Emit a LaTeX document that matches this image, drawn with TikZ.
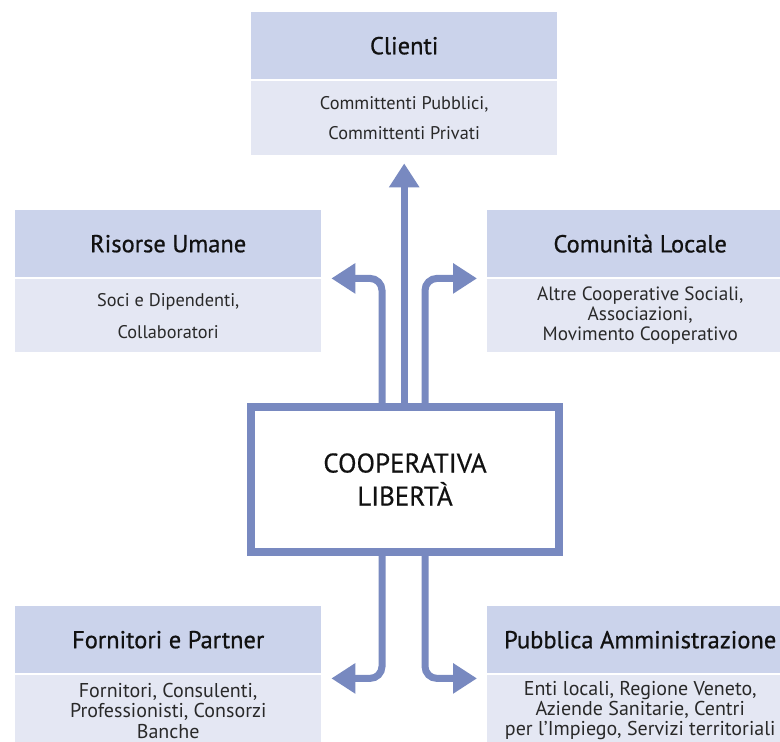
\documentclass[tikz,border=0pt]{standalone}
\usepackage{fontspec}
\setmainfont{PT Sans}
\newfontfamily\hdrfont[FakeBold=0.7]{PT Sans}
\newfontfamily\ctrfont[FakeBold=0.4]{PT Sans}
\usetikzlibrary{arrows.meta,calc}
\definecolor{hdr}{HTML}{CBD3EB}
\definecolor{bdy}{HTML}{E4E7F3}
\definecolor{ln}{HTML}{7889C0}
\definecolor{txt}{HTML}{111111}
\begin{document}
\begin{tikzpicture}[x=1pt,y=-1pt,
  hbox/.style={fill=hdr,minimum width=306pt,minimum height=67pt,anchor=north west,inner sep=0pt,
    font=\hdrfont\fontsize{24.5}{28}\selectfont,text=txt},
  bbox/.style={fill=bdy,minimum width=306pt,anchor=north west,inner sep=0pt,align=center,text=txt!90},
  conn/.style={draw=ln,line width=7pt,rounded corners=12pt,-{Triangle[length=24pt,width=29pt]}}]
\useasboundingbox (0,0) rectangle (780,742);
\fill[white] (0,0) rectangle (780,742);
\clip (0,0) rectangle (780,742);
% Clienti
\node[hbox] (cliH) at (251,12) {Clienti};
\node[bbox,minimum height=74pt,font=\fontsize{18.3}{30}\selectfont] (cliB) at (251,81) {Committenti Pubblici,\\Committenti Privati};
% Risorse Umane
\node[hbox] (ruH) at (15,210) {Risorse Umane};
\node[bbox,minimum height=73pt,font=\fontsize{18.3}{32}\selectfont] (ruB) at (15,279) {Soci e Dipendenti,\\Collaboratori};
% Comunita Locale
\node[hbox] (clH) at (487,210) {Comunità Locale};
\node[bbox,minimum height=73pt,font=\fontsize{19.2}{20}\selectfont] (clB) at (487,279) {Altre Cooperative Sociali,\\Associazioni,\\Movimento Cooperativo};
% Fornitori e Partner
\node[hbox] (fpH) at (15,606) {Fornitori e Partner};
\node[bbox,minimum height=71pt,font=\fontsize{20}{20.3}\selectfont] (fpB) at (15,675) {Fornitori, Consulenti,\\Professionisti, Consorzi\\Banche};
% Pubblica Amministrazione
\node[hbox] (paH) at (487,606) {Pubblica Amministrazione};
\node[bbox,minimum height=71pt,font=\fontsize{20}{20.3}\selectfont] (paB) at (487,675) {Enti locali, Regione Veneto,\\Aziende Sanitarie, Centri\\per l’Impiego, Servizi territoriali};
\fill[bdy] (15,740) rectangle (321,742);
\fill[bdy] (487,740) rectangle (780,742);
% Centre
\node[draw=ln,line width=8pt,fill=white,minimum width=308pt,minimum height=145pt,inner sep=0pt,
  align=center,font=\ctrfont\fontsize{27}{33}\selectfont,text=txt] (coop) at (405,479.5) {COOPERATIVA\\LIBERTÀ};
% Connectors
\draw[conn] (cliB.south |- coop.north) -- ([yshift=-8pt]cliB.south);
\draw[conn] ([xshift=-23pt]coop.north) |- ([xshift=10pt,yshift=-1pt]ruH.south east);
\draw[conn] ([xshift=20pt]coop.north) |- ([xshift=-10pt,yshift=-1pt]clH.south west);
\draw[conn] ([xshift=-23pt]coop.south) |- ([xshift=10pt,yshift=-5pt]fpH.south east);
\draw[conn] ([xshift=20pt]coop.south) |- ([xshift=-10pt,yshift=-5pt]paH.south west);
\end{tikzpicture}
\end{document}
